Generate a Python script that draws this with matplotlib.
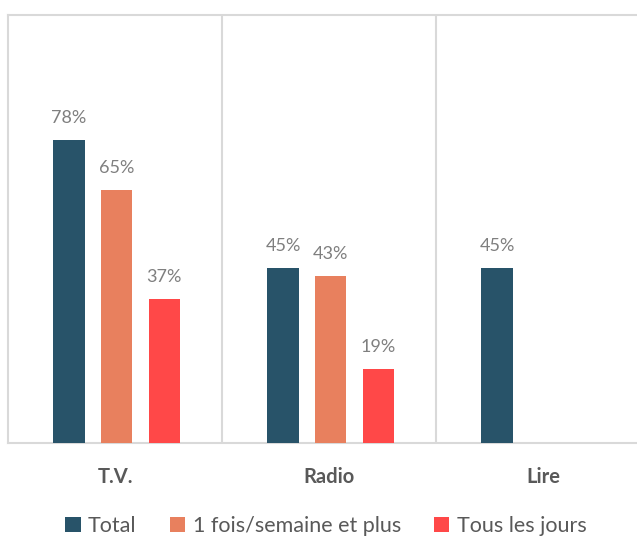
import matplotlib
matplotlib.use("Agg")
import matplotlib.pyplot as plt
import numpy as np

plt.rcParams['font.family'] = ['Lato', 'DejaVu Sans']

categories = ["T.V.", "Radio", "Lire"]
series_names = ["Total", "1 fois/semaine et plus", "Tous les jours"]
total = [78, 45, 45]
hebdo = [65, 43, np.nan]
quotidien = [37, 19, np.nan]
colors = ["#285369", "#e8805e", "#ff4848"]

W, H = 637, 540
fig = plt.figure(figsize=(W / 100, H / 100), dpi=100)
ax = fig.add_axes([8 / W, (H - 443) / H, 642 / W, (443 - 15) / H])

x = np.arange(len(categories)) + 0.5
offsets = [-0.215, 0.007, 0.23]
bw = 0.145
grid_c = "#d9d9d9"
for vals, off, col, name in zip([total, hebdo, quotidien], offsets, colors, series_names):
    bars = ax.bar(x + off, vals, width=bw, color=col, label=name, zorder=3)
    for xi, v in zip(x + off, vals):
        if not np.isnan(v):
            ax.text(xi, v + 3.6, f"{int(v)}%", ha="center", va="bottom",
                    fontsize=13, color="#7f7f7f")

ax.set_xlim(0, 3)
ax.set_ylim(0, 110)
ax.set_yticks([])
ax.set_xticks(x)
ax.set_xticklabels(categories, fontsize=14.5, fontweight="bold", color="#595959")
ax.tick_params(axis="x", length=0, pad=17)
for b in [1, 2]:
    ax.axvline(b, color=grid_c, lw=1.5, zorder=1)
for s in ax.spines.values():
    s.set_color(grid_c)
    s.set_linewidth(1.5)

handles, labels = ax.get_legend_handles_labels()
fig.legend(handles, labels, loc="center", bbox_to_anchor=(326 / W, (H - 526) / H),
           ncol=3, frameon=False, fontsize=15.5, handlelength=0.7, handleheight=0.7,
           handletextpad=0.35, columnspacing=1.55, labelcolor="#595959")

fig.savefig("out.png", dpi=100)
